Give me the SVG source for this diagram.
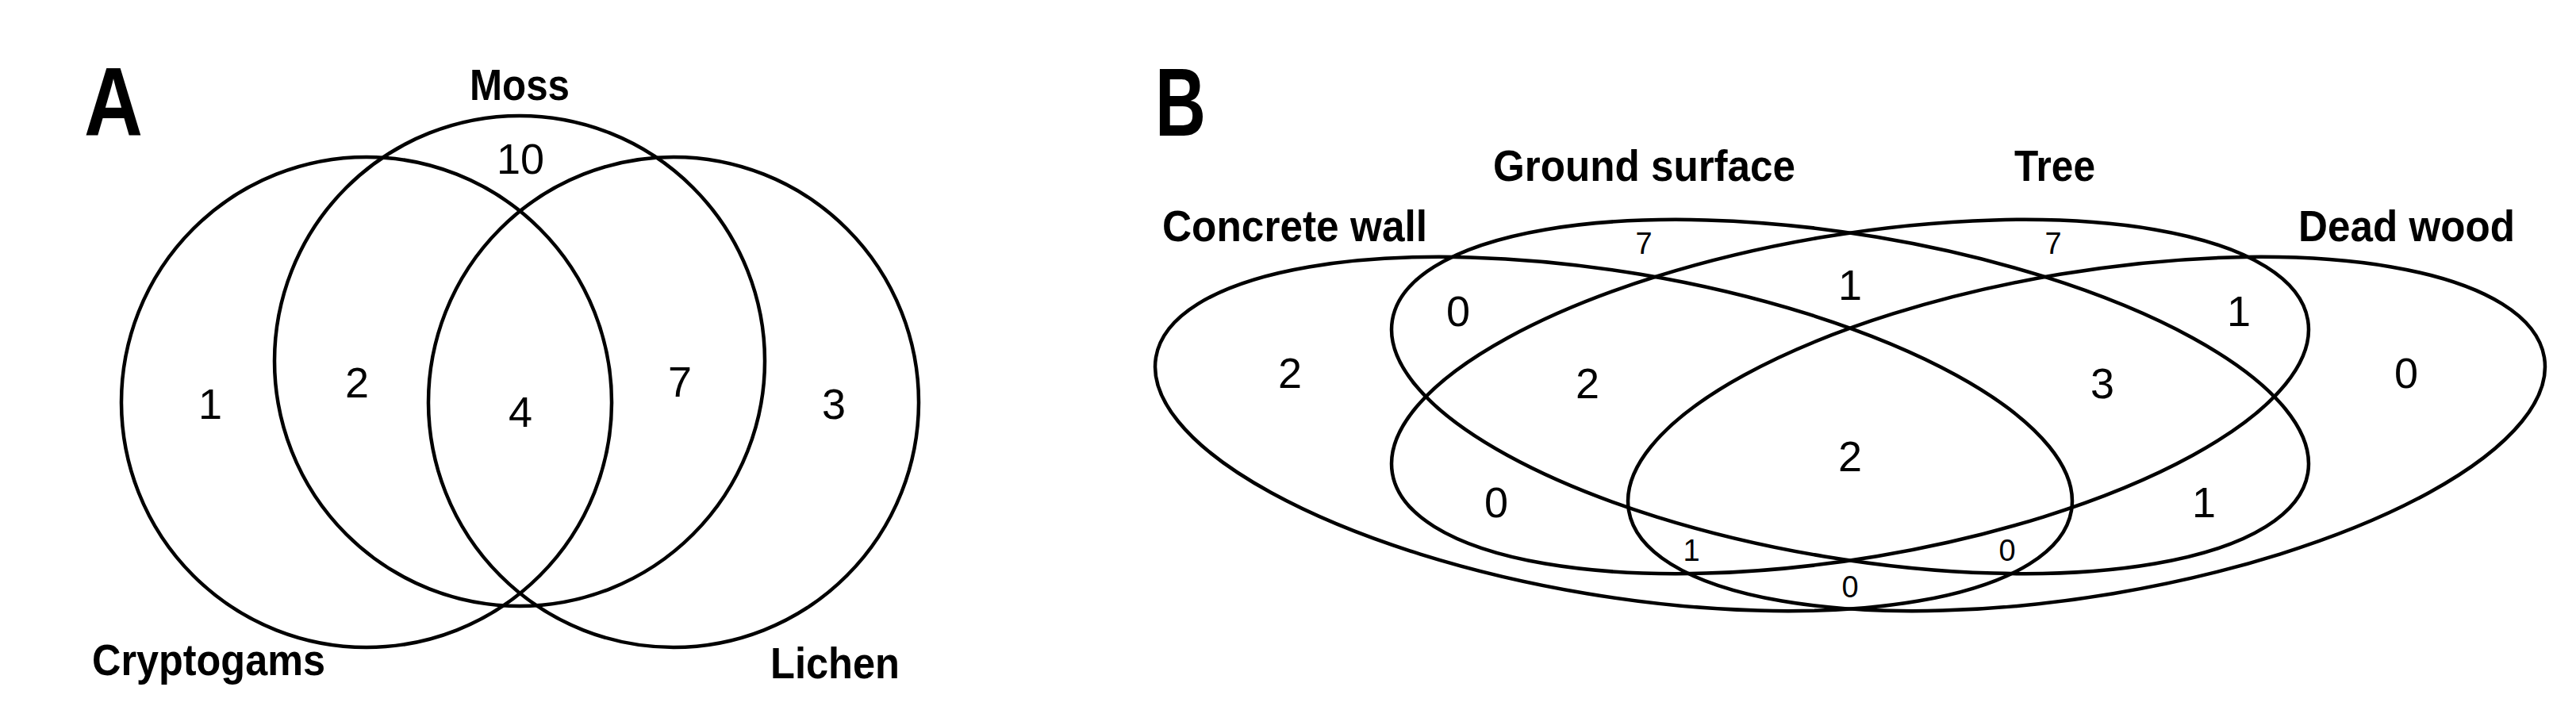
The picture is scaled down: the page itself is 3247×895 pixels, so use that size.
<svg xmlns="http://www.w3.org/2000/svg" width="3247" height="895" viewBox="0 0 3247 895">
<style>
.s{fill:none;stroke:#000;stroke-width:4.5}
.l{font-family:"Liberation Sans",Arial,sans-serif;font-weight:bold;font-size:56px;fill:#000}
.n{font-family:"Liberation Sans",Arial,sans-serif;font-size:54px;fill:#000;text-anchor:middle}
.m{font-family:"Liberation Sans",Arial,sans-serif;font-size:38px;fill:#000;text-anchor:middle}
.p{font-family:"Liberation Sans",Arial,sans-serif;font-weight:bold;font-size:122px;fill:#000}
</style>
<rect width="3247" height="895" fill="#fff"/>
<g id="panelA">
<text class="p" x="106" y="171" textLength="74" lengthAdjust="spacingAndGlyphs">A</text>
<g id="cryptogams"><circle class="s" cx="462" cy="507" r="309"/><text class="l" x="116" y="851" textLength="294" lengthAdjust="spacingAndGlyphs">Cryptogams</text></g>
<g id="moss"><circle class="s" cx="655" cy="455" r="309"/><text class="l" x="592" y="126" textLength="126" lengthAdjust="spacingAndGlyphs">Moss</text></g>
<g id="lichen"><circle class="s" cx="849" cy="507" r="309"/><text class="l" x="971" y="855" textLength="163" lengthAdjust="spacingAndGlyphs">Lichen</text></g>
<g id="countsA">
<text class="n" x="656" y="219">10</text>
<text class="n" x="265" y="528">1</text>
<text class="n" x="450" y="501">2</text>
<text class="n" x="656" y="538">4</text>
<text class="n" x="857" y="500">7</text>
<text class="n" x="1051" y="528">3</text>
</g>
</g>
<g id="panelB">
<text class="p" x="1456" y="171" textLength="64" lengthAdjust="spacingAndGlyphs">B</text>
<g id="concrete"><ellipse class="s" cx="2034" cy="547" rx="585" ry="204" transform="rotate(9.5 2034 547)"/><text class="l" x="1465" y="304" textLength="334" lengthAdjust="spacingAndGlyphs">Concrete wall</text></g>
<g id="ground"><ellipse class="s" cx="2332" cy="500" rx="585" ry="204" transform="rotate(9.5 2332 500)"/><text class="l" x="1882" y="228" textLength="381" lengthAdjust="spacingAndGlyphs">Ground surface</text></g>
<g id="tree"><ellipse class="s" cx="2332" cy="500" rx="585" ry="204" transform="rotate(-9.5 2332 500)"/><text class="l" x="2539" y="228" textLength="102" lengthAdjust="spacingAndGlyphs">Tree</text></g>
<g id="deadwood"><ellipse class="s" cx="2630" cy="547" rx="585" ry="204" transform="rotate(-9.5 2630 547)"/><text class="l" x="2897" y="304" textLength="273" lengthAdjust="spacingAndGlyphs">Dead wood</text></g>
<g id="countsB">
<text class="m" x="2072" y="320">7</text>
<text class="m" x="2588" y="320">7</text>
<text class="n" x="2332" y="378">1</text>
<text class="n" x="1838" y="411">0</text>
<text class="n" x="2822" y="411">1</text>
<text class="n" x="1626" y="489">2</text>
<text class="n" x="2001" y="502">2</text>
<text class="n" x="2650" y="502">3</text>
<text class="n" x="3033" y="489">0</text>
<text class="n" x="2332" y="594">2</text>
<text class="n" x="1886" y="652">0</text>
<text class="n" x="2778" y="652">1</text>
<text class="m" x="2132" y="707">1</text>
<text class="m" x="2530" y="707">0</text>
<text class="m" x="2332" y="753">0</text>
</g>
</g>
</svg>
